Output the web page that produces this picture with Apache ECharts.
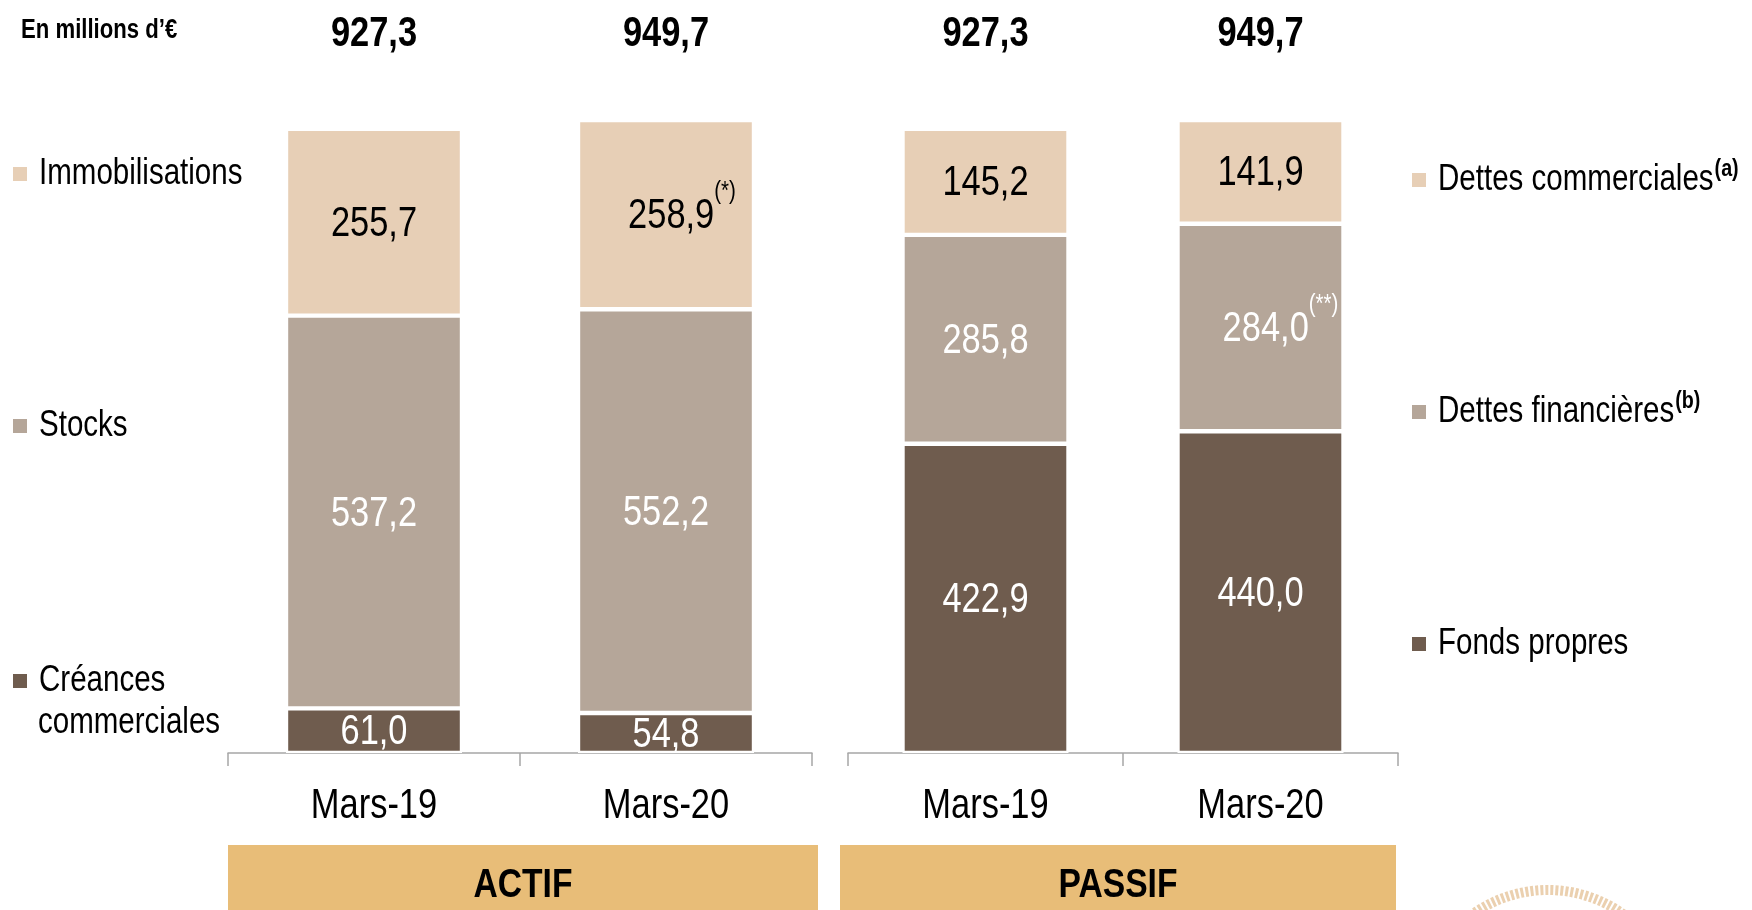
<!DOCTYPE html>
<html><head><meta charset="utf-8">
<script src="https://cdn.jsdelivr.net/npm/echarts@6/dist/echarts.min.js"></script>
<style>html,body{margin:0;padding:0;background:#fff}#c{width:1752px;height:910px}</style>
</head><body><div id="c"></div>
<script>
// ---- data ----
const categories = ['Mars-19', 'Mars-20'];
const totalsActif = ['927,3', '949,7'];
const totalsPassif = ['927,3', '949,7'];
const immobilisations = [255.7, 258.9];
const stocks = [537.2, 552.2];
const creances = [61.0, 54.8];
const dettesCommerciales = [145.2, 141.9];
const dettesFinancieres = [285.8, 284.0];
const fondsPropres = [422.9, 440.0];
const notesImmobilisations = ['', '(*)'];
const notesDettesFinancieres = ['', '(**)'];
const groupLabels = ['ACTIF', 'PASSIF'];

// ---- narrow text rendering (Arial Narrow look: Liberation Sans condensed horizontally) ----
(function () {
  const SX = 0.82;
  const proto = CanvasRenderingContext2D.prototype;
  const oFill = proto.fillText, oStroke = proto.strokeText, oMeasure = proto.measureText;
  proto.fillText = function (t, x, y, mw) {
    this.save(); this.translate(x, y); this.scale(SX, 1); oFill.call(this, t, 0, 0); this.restore();
  };
  proto.strokeText = function (t, x, y, mw) {
    this.save(); this.translate(x, y); this.scale(SX, 1); oStroke.call(this, t, 0, 0); this.restore();
  };
  proto.measureText = function (t) {
    const m = oMeasure.call(this, t);
    return {
      width: m.width * SX,
      actualBoundingBoxLeft: m.actualBoundingBoxLeft * SX,
      actualBoundingBoxRight: m.actualBoundingBoxRight * SX,
      actualBoundingBoxAscent: m.actualBoundingBoxAscent,
      actualBoundingBoxDescent: m.actualBoundingBoxDescent,
      fontBoundingBoxAscent: m.fontBoundingBoxAscent,
      fontBoundingBoxDescent: m.fontBoundingBoxDescent
    };
  };
})();

// ---- style ----
const FONT = "'Liberation Sans',Arial,sans-serif";
const C_LIGHT = '#E7CFB6', C_MID = '#B5A699', C_DARK = '#6F5C4E';
const AXIS_COLOR = '#A6A6A6';
const fmt = v => v.toFixed(1).replace('.', ',');

function seg(name, data, g, color, labelColor, notes, noteOffset) {
  return {
    name, type: 'bar', stack: 'g' + g, xAxisIndex: g * 2, yAxisIndex: g,
    barWidth: g === 0 ? 176 : 166,
    itemStyle: { color, borderColor: '#fff', borderWidth: 2.2 },
    emphasis: { disabled: true },
    label: {
      show: true, position: 'inside', color: labelColor,
      formatter: p => {
        const n = notes ? notes[p.dataIndex] : '';
        return '{v|' + fmt(p.value) + '}' + (n ? '{s|' + n + '}' : '');
      },
      rich: {
        v: { fontSize: 42, lineHeight: 66, color: labelColor, fontFamily: FONT, padding: [4, 0, 0, 0] },
        s: { fontSize: 25, lineHeight: 26, verticalAlign: 'top', color: labelColor, fontFamily: FONT }
      }
    },
    data: data.map((v, i) => (notes && notes[i]) ? { value: v, label: { offset: [noteOffset, 0] } } : v)
  };
}

function catAxis(g) {
  return {
    type: 'category', gridIndex: g, data: categories,
    axisLine: { lineStyle: { color: AXIS_COLOR, width: 1.5 } },
    axisTick: { show: true, length: 13, lineStyle: { color: AXIS_COLOR, width: 1.5 } },
    axisLabel: { fontFamily: FONT, fontSize: 42, color: '#000', margin: 36 }
  };
}
function totAxis(g, totals) {
  return {
    type: 'category', gridIndex: g, position: 'top', data: totals,
    axisLine: { show: false }, axisTick: { show: false },
    axisLabel: { fontFamily: FONT, fontSize: 42, fontWeight: 'bold', color: '#000', margin: 43 }
  };
}

function leg(name, left, cy, formatter) {
  return {
    data: [name], left, top: cy - 20, padding: 0, icon: 'rect', itemWidth: 16, itemHeight: 16,
    selectedMode: false,
    formatter,
    textStyle: {
      fontFamily: FONT, fontSize: 36, color: '#000', lineHeight: 40, padding: [0, 0, 0, 6],
      rich: {
        t: { fontFamily: FONT, fontSize: 36, lineHeight: 40, color: '#000' },
        s: { fontFamily: FONT, fontSize: 24, fontWeight: 'bold', verticalAlign: 'top', lineHeight: 26, color: '#000', padding: [0, 0, 0, 1] }
      }
    }
  };
}

const chart = echarts.init(document.getElementById('c'), null, { renderer: 'canvas' });
chart.setOption({
  animation: false,
  color: [C_LIGHT, C_MID, C_DARK],
  title: {
    text: 'En millions d\u2019\u20ac', left: 21, top: 19, padding: 0,
    textStyle: { fontFamily: FONT, fontSize: 27, fontWeight: 'bold', color: '#000' }
  },
  grid: [
    { left: 228, width: 584, top: 95, height: 658 },
    { left: 848, width: 550, top: 95, height: 658 }
  ],
  xAxis: [catAxis(0), totAxis(0, totalsActif), catAxis(1), totAxis(1, totalsPassif)],
  yAxis: [
    { type: 'value', gridIndex: 0, min: 0, max: 900, show: false },
    { type: 'value', gridIndex: 1, min: 0, max: 900, show: false }
  ],
  legend: [
    leg('Immobilisations', 11, 174, n => '{t|' + n + '}'),
    leg('Stocks', 11, 426, n => '{t|' + n + '}'),
    leg('Créances commerciales', 11, 681, () => '{t|Créances}'),
    leg('Dettes commerciales', 1410, 180, n => '{t|' + n + '}{s|(a)}'),
    leg('Dettes financières', 1410, 412, n => '{t|' + n + '}{s|(b)}'),
    leg('Fonds propres', 1410, 644, n => '{t|' + n + '}')
  ],
  series: [
    seg('Créances commerciales', creances, 0, C_DARK, '#fff'),
    seg('Stocks', stocks, 0, C_MID, '#fff'),
    seg('Immobilisations', immobilisations, 0, C_LIGHT, '#000', notesImmobilisations, 16),
    seg('Fonds propres', fondsPropres, 1, C_DARK, '#fff'),
    seg('Dettes financières', dettesFinancieres, 1, C_MID, '#fff', notesDettesFinancieres, 20),
    seg('Dettes commerciales', dettesCommerciales, 1, C_LIGHT, '#000')
  ],
  graphic: [
    { type: 'text', left: 38, top: 708, style: { text: 'commerciales', font: '36px ' + FONT, fill: '#000' } },
    {
      type: 'rect', shape: { x: 228, y: 845, width: 590, height: 82 }, style: { fill: '#E8BD78' },
      textContent: { style: { text: groupLabels[0], font: 'bold 41px ' + FONT, fill: '#000' } },
      textConfig: { position: 'inside' }
    },
    {
      type: 'rect', shape: { x: 840, y: 845, width: 556, height: 82 }, style: { fill: '#E8BD78' },
      textContent: { style: { text: groupLabels[1], font: 'bold 41px ' + FONT, fill: '#000' } },
      textConfig: { position: 'inside' }
    },
    {
      type: 'circle', shape: { cx: 1548, cy: 1019, r: 129 },
      style: { fill: 'none', stroke: '#DDB07A', lineWidth: 10, lineDash: [3, 2], opacity: 0.6 }
    }
  ]
});
</script>
</body></html>
